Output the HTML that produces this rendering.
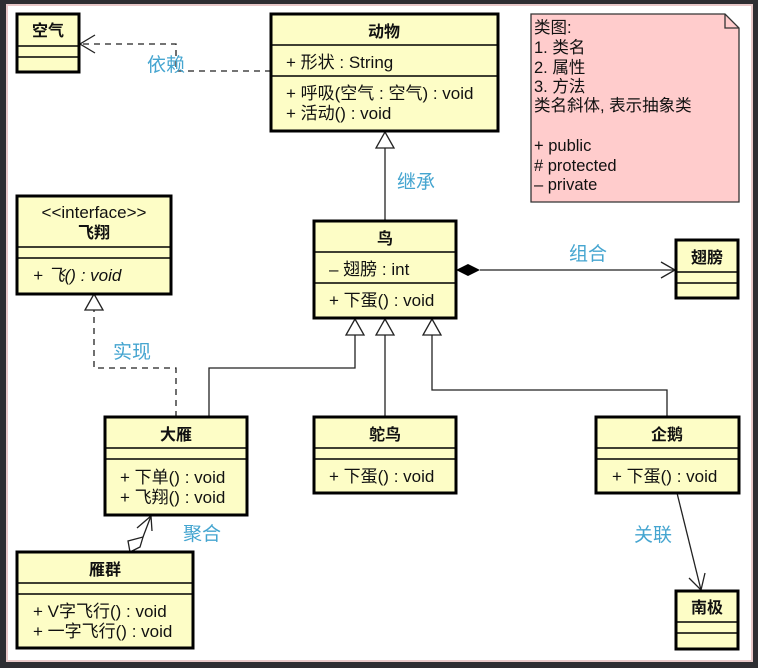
<!DOCTYPE html>
<html><head><meta charset="utf-8"><style>
html,body{margin:0;padding:0;background:#2e2e32;}
svg{display:block;}
text{font-family:"Liberation Sans","Noto Sans CJK SC",sans-serif;font-size:17px;fill:#111;}
.b{font-weight:bold;font-size:16px;}
.lbl{fill:#45a5d0;font-size:19px;}
.nt{font-size:16.5px;}
.box{fill:#fdfdc6;stroke:#000;stroke-width:3;}
.sep{stroke:#000;stroke-width:1.5;}
.ln{stroke:#222;stroke-width:1.3;fill:none;}
.dash{stroke:#222;stroke-width:1.3;fill:none;stroke-dasharray:6,5;}
.tri{fill:#fff;stroke:#222;stroke-width:1.3;}
</style></head><body>
<svg width="758" height="668" viewBox="0 0 758 668">
<rect x="7" y="5" width="745" height="656" fill="#fff" stroke="#e8c8c8" stroke-width="2"/>

<polyline class="dash" points="271,71 176,71 176,44 82,44"/>
<polyline class="ln" points="95,35 80,44 95,53"/>
<text class="lbl" x="147" y="71">依赖</text>

<line class="ln" x1="385" y1="221" x2="385" y2="148"/>
<polygon class="tri" points="385,132 376,148 394,148"/>
<text class="lbl" x="397" y="188">继承</text>

<line class="ln" x1="480" y1="270" x2="674" y2="270"/>
<polygon points="456,270 468,264 480,270 468,276" fill="#000"/>
<polyline class="ln" points="661,262 675,270 661,278"/>
<text class="lbl" x="569" y="260">组合</text>

<polyline class="ln" points="209,417 209,368 355,368 355,334"/>
<polygon class="tri" points="355,319 346,335 364,335"/>
<line class="ln" x1="385" y1="417" x2="385" y2="334"/>
<polygon class="tri" points="385,319 376,335 394,335"/>
<polyline class="ln" points="667,417 667,390 432,390 432,334"/>
<polygon class="tri" points="432,319 423,335 441,335"/>

<polyline class="dash" points="176,417 176,368 94,368 94,310"/>
<polygon class="tri" points="94,294 85,310 103,310"/>
<text class="lbl" x="113" y="358">实现</text>

<line class="ln" x1="143" y1="537" x2="151" y2="516"/>
<polygon class="tri" points="130,552 128,541 143,537 140,547"/>
<polyline class="ln" points="137,528 151,516 152,531"/>
<text class="lbl" x="183" y="540">聚合</text>

<line class="ln" x1="677" y1="493" x2="701" y2="590"/>
<polyline class="ln" points="689,578 701,590 705,573"/>
<text class="lbl" x="634" y="541">关联</text>

<rect class="box" x="17" y="14" width="62" height="58"/>
<line class="sep" x1="17" y1="46" x2="79" y2="46"/><line class="sep" x1="17" y1="57" x2="79" y2="57"/>
<text class="b" x="48" y="36" text-anchor="middle">空气</text>

<rect class="box" x="271" y="14" width="227" height="117"/>
<line class="sep" x1="271" y1="45" x2="498" y2="45"/><line class="sep" x1="271" y1="76" x2="498" y2="76"/>
<text class="b" x="384" y="37" text-anchor="middle">动物</text>
<text x="286" y="68">+ 形状 : String</text>
<text x="286" y="99">+ 呼吸(空气 : 空气) : void</text>
<text x="286" y="119">+ 活动() : void</text>

<path d="M531,14 H725 L739,28 V202 H531 Z" fill="#ffcccc" stroke="#333" stroke-width="1.3"/>
<polyline points="725,14 725,28 739,28" fill="none" stroke="#333" stroke-width="1.3"/>
<text class="nt" x="534" y="33">类图:</text>
<text class="nt" x="534" y="53">1. 类名</text>
<text class="nt" x="534" y="73">2. 属性</text>
<text class="nt" x="534" y="92">3. 方法</text>
<text class="nt" x="534" y="111">类名斜体, 表示抽象类</text>
<text class="nt" x="534" y="151">+ public</text>
<text class="nt" x="534" y="171"># protected</text>
<text class="nt" x="534" y="190">– private</text>

<rect class="box" x="17" y="196" width="154" height="98"/>
<line class="sep" x1="17" y1="247" x2="171" y2="247"/><line class="sep" x1="17" y1="258" x2="171" y2="258"/>
<text x="94" y="218" text-anchor="middle">&lt;&lt;interface&gt;&gt;</text>
<text class="b" x="94" y="238" text-anchor="middle">飞翔</text>
<text x="33" y="281" font-style="italic">+ 飞() : void</text>

<rect class="box" x="314" y="221" width="142" height="97"/>
<line class="sep" x1="314" y1="252" x2="456" y2="252"/><line class="sep" x1="314" y1="283" x2="456" y2="283"/>
<text class="b" x="385" y="244" text-anchor="middle">鸟</text>
<text x="329" y="275">– 翅膀 : int</text>
<text x="329" y="306">+ 下蛋() : void</text>

<rect class="box" x="676" y="240" width="62" height="58"/>
<line class="sep" x1="676" y1="272" x2="738" y2="272"/><line class="sep" x1="676" y1="283" x2="738" y2="283"/>
<text class="b" x="707" y="263" text-anchor="middle">翅膀</text>

<rect class="box" x="105" y="417" width="142" height="98"/>
<line class="sep" x1="105" y1="448" x2="247" y2="448"/><line class="sep" x1="105" y1="459" x2="247" y2="459"/>
<text class="b" x="176" y="440" text-anchor="middle">大雁</text>
<text x="120" y="483">+ 下单() : void</text>
<text x="120" y="503">+ 飞翔() : void</text>

<rect class="box" x="314" y="417" width="142" height="76"/>
<line class="sep" x1="314" y1="448" x2="456" y2="448"/><line class="sep" x1="314" y1="459" x2="456" y2="459"/>
<text class="b" x="385" y="440" text-anchor="middle">鸵鸟</text>
<text x="329" y="482">+ 下蛋() : void</text>

<rect class="box" x="596" y="417" width="143" height="76"/>
<line class="sep" x1="596" y1="448" x2="739" y2="448"/><line class="sep" x1="596" y1="459" x2="739" y2="459"/>
<text class="b" x="667" y="440" text-anchor="middle">企鹅</text>
<text x="612" y="482">+ 下蛋() : void</text>

<rect class="box" x="17" y="552" width="176" height="96"/>
<line class="sep" x1="17" y1="583" x2="193" y2="583"/><line class="sep" x1="17" y1="594" x2="193" y2="594"/>
<text class="b" x="105" y="575" text-anchor="middle">雁群</text>
<text x="33" y="617">+ V字飞行() : void</text>
<text x="33" y="637">+ 一字飞行() : void</text>

<rect class="box" x="676" y="591" width="62" height="58"/>
<line class="sep" x1="676" y1="622" x2="738" y2="622"/><line class="sep" x1="676" y1="633" x2="738" y2="633"/>
<text class="b" x="707" y="613" text-anchor="middle">南极</text>
</svg>
</body></html>
